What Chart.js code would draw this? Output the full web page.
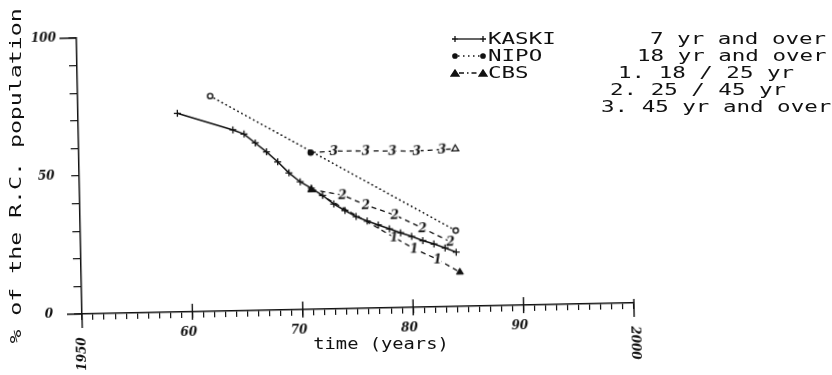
<!DOCTYPE html>
<html><head><meta charset="utf-8">
<script src="https://cdn.jsdelivr.net/npm/chart.js@4/dist/chart.umd.min.js"></script>
<style>
html,body{margin:0;padding:0;background:#fff;}
#wrap{position:relative;width:832px;height:375px;overflow:hidden;background:#fff;}
#plot{position:absolute;left:0;top:0;width:832px;height:375px;transform-origin:82px 314px;transform:rotate(-1.15deg);}
.t{position:absolute;font-family:"DejaVu Sans Mono",monospace;font-size:15px;line-height:15px;color:#111;white-space:pre;transform-origin:0 50%;transform:translateY(-50%) scaleX(1.5);}
.c{position:absolute;font-family:"DejaVu Sans Mono",monospace;font-size:15px;line-height:15px;color:#111;white-space:pre;transform:translate(-50%,-50%) scaleX(1.25);}
.r{position:absolute;font-family:"DejaVu Sans Mono",monospace;font-size:16px;line-height:16px;color:#111;white-space:pre;transform:translate(-50%,-50%) rotate(-90deg) scaleX(1.45);}
svg{position:absolute;left:0;top:0;}
</style></head><body>
<div id="wrap">
  <div id="plot"><canvas id="c" width="832" height="375"></canvas></div>
  <svg width="832" height="375">
    <g stroke="#111" fill="#111" stroke-width="1.3">
      <path d="M452 39h6M455 36v6M480 39h6M483 36v6" />
      <path d="M458 39H480" />
      <circle cx="455" cy="56" r="2.2"/><circle cx="483" cy="56" r="2.2"/>
      <path d="M458 56H480" stroke-dasharray="1.5 3.5" />
      <path d="M451 76l4-6 4 6z M479 76l4-6 4 6z"/>
      <path d="M459 73H479" stroke-dasharray="5 3 1.5 3" />
    </g>
  </svg>
  <div class="t" style="left:488px;top:39px">KASKI</div>
  <div class="t" style="left:488px;top:56px">NIPO</div>
  <div class="t" style="left:488px;top:73px">CBS</div>
  <div class="t" style="left:650px;top:39px">7 yr and over</div>
  <div class="t" style="left:637px;top:56px">18 yr and over</div>
  <div class="t" style="left:618px;top:73px">1. 18 / 25 yr</div>
  <div class="t" style="left:610px;top:90px">2. 25 / 45 yr</div>
  <div class="t" style="left:601px;top:107px">3. 45 yr and over</div>
  <div class="c" style="left:381px;top:344px">time (years)</div>
  <div class="r" style="left:16px;top:176px">% of the R.C. population</div>
</div>
<script>
// ---- data ----
const kaskiYears  = [1959,1964,1965,1966,1967,1968,1969,1970,1971,1972,1973,1974,1975,1976,1977,1978,1979,1980,1981,1982,1983,1984];
const kaskiValues = [72,65.6,64,60.7,57.4,53.7,49.6,46.3,43.9,41.2,38,35.6,33.3,31.6,30.1,28.6,27.1,25.7,24.1,22.8,21.3,19.7];
const nipoYears   = [1962,1984];
const nipoValues  = [78,27.5];
const cbs1Years   = [1971,1978.4,1980.2,1982.3,1984.3];
const cbs1Values  = [43.4,25.5,21.2,17.2,12.4];
const cbs2Years   = [1971,1973.8,1975.9,1978.5,1981,1983.5];
const cbs2Values  = [43.4,41.2,37.4,33.6,28.6,23.5];
const cbs3Years   = [1971,1973.1,1976,1978.4,1980.6,1982.9,1984.1];
const cbs3Values  = [56.8,57.2,57,56.8,56.6,57,57.1];
const yTickLabels = {0:'0',50:'50',100:'100'};
const xTickLabels = {1960:'60',1970:'70',1980:'80',1990:'90'};
const xEndLabels  = {1950:'1950',2000:'2000'};

const pts = (xs,ys)=>xs.map((x,i)=>({x:x,y:ys[i]}));
function glyph(ch){
  const c=document.createElement('canvas');c.width=12;c.height=14;
  const g=c.getContext('2d');
  g.fillStyle='#fff';g.fillRect(3,2,7,11);
  g.fillStyle='#111';g.font='bold italic 12px "DejaVu Serif"';
  g.textAlign='center';g.textBaseline='middle';g.fillText(ch,6,7.5);
  return c;
}
const g1=glyph('1'),g2=glyph('2'),g3=glyph('3');
const ink='#111';

const axisDeco={id:'axisDeco',afterDraw(chart){
  const {ctx,scales:{x,y}}=chart;
  const x0=x.getPixelForValue(1950),y0=y.getPixelForValue(0),yt=y.getPixelForValue(100),xe=x.getPixelForValue(2000);
  ctx.save();ctx.strokeStyle=ink;ctx.lineWidth=1.4;ctx.beginPath();
  ctx.moveTo(x0-15,y0);ctx.lineTo(x0,y0);
  ctx.moveTo(x0,y0);ctx.lineTo(x0,y0+14);
  ctx.moveTo(x0-17,yt);ctx.lineTo(x0,yt);
  for(const d of Object.keys(xTickLabels)){const px=x.getPixelForValue(+d);ctx.moveTo(px,y0-8);ctx.lineTo(px,y0+8);}
  ctx.moveTo(xe,y0-4);ctx.lineTo(xe,y0+14);
  ctx.stroke();
  ctx.fillStyle=ink;ctx.font='bold italic 12px "DejaVu Serif"';ctx.textBaseline='middle';
  ctx.textAlign='center';
  for(const v of Object.keys(yTickLabels)){ctx.fillText(yTickLabels[v],x0-33,y.getPixelForValue(+v));}
  for(const d of Object.keys(xTickLabels)){ctx.fillText(xTickLabels[d],x.getPixelForValue(+d)-4,y0+21);}
  for(const d of Object.keys(xEndLabels)){
    const px=x.getPixelForValue(+d);ctx.save();ctx.translate(px,y0+40);ctx.rotate(+d===1950?-Math.PI/2:Math.PI/2);
    ctx.fillText(xEndLabels[d],0,0);ctx.restore();
  }
  ctx.restore();
}};

new Chart(document.getElementById('c'),{
  type:'line',
  data:{datasets:[
    {label:'KASKI',data:pts(kaskiYears,kaskiValues),borderColor:ink,borderWidth:1.5,pointStyle:'cross',pointRadius:3.5,pointBorderWidth:1.3,pointBorderColor:ink,tension:0,clip:false},
    {label:'NIPO',data:pts(nipoYears,nipoValues),borderColor:ink,borderWidth:1.6,borderDash:[0.5,4],borderCapStyle:'round',pointStyle:'circle',pointRadius:2.6,pointBorderWidth:1.4,pointBorderColor:ink,pointBackgroundColor:'#fff',tension:0,clip:false},
    {label:'CBS 18/25',data:pts(cbs1Years,cbs1Values),borderColor:ink,borderWidth:1.3,borderDash:[5,4],
      pointStyle:['triangle',g1,g1,g1,'triangle'],pointRadius:4,pointBorderColor:ink,pointBackgroundColor:ink,pointBorderWidth:1,tension:0,clip:false},
    {label:'CBS 25/45',data:pts(cbs2Years,cbs2Values),borderColor:ink,borderWidth:1.3,borderDash:[5,4],
      pointStyle:['triangle',g2,g2,g2,g2,g2],pointRadius:4,pointBorderColor:ink,pointBackgroundColor:ink,pointBorderWidth:1,tension:0,clip:false},
    {label:'CBS 45+',data:pts(cbs3Years,cbs3Values),borderColor:ink,borderWidth:1.3,borderDash:[5,4],
      pointStyle:['circle',g3,g3,g3,g3,g3,'triangle'],pointRadius:[2.6,4,4,4,4,4,4],pointBorderColor:ink,
      pointBackgroundColor:[ink,ink,ink,ink,ink,ink,'#fff'],pointBorderWidth:1.2,tension:0,clip:false}
  ]},
  options:{responsive:false,animation:false,devicePixelRatio:1,
    layout:{padding:{top:38,right:198,left:0,bottom:0}},
    plugins:{legend:{display:false},tooltip:{enabled:false}},
    scales:{
      x:{type:'linear',min:1950,max:2000,
        ticks:{stepSize:1,maxTicksLimit:60,autoSkip:false,display:false},
        grid:{drawOnChartArea:false,drawTicks:true,tickLength:6,color:ink,lineWidth:1.2},
        border:{display:true,color:ink,width:1.5},
        afterFit(s){s.height=61;}},
      y:{min:0,max:100,
        ticks:{stepSize:10,display:false},
        grid:{drawOnChartArea:false,drawTicks:true,tickLength:8,color:ink,lineWidth:1.2},
        border:{display:true,color:ink,width:1.5},
        afterFit(s){s.width=82;}}
    }},
  plugins:[axisDeco]
});
</script>
</body></html>
